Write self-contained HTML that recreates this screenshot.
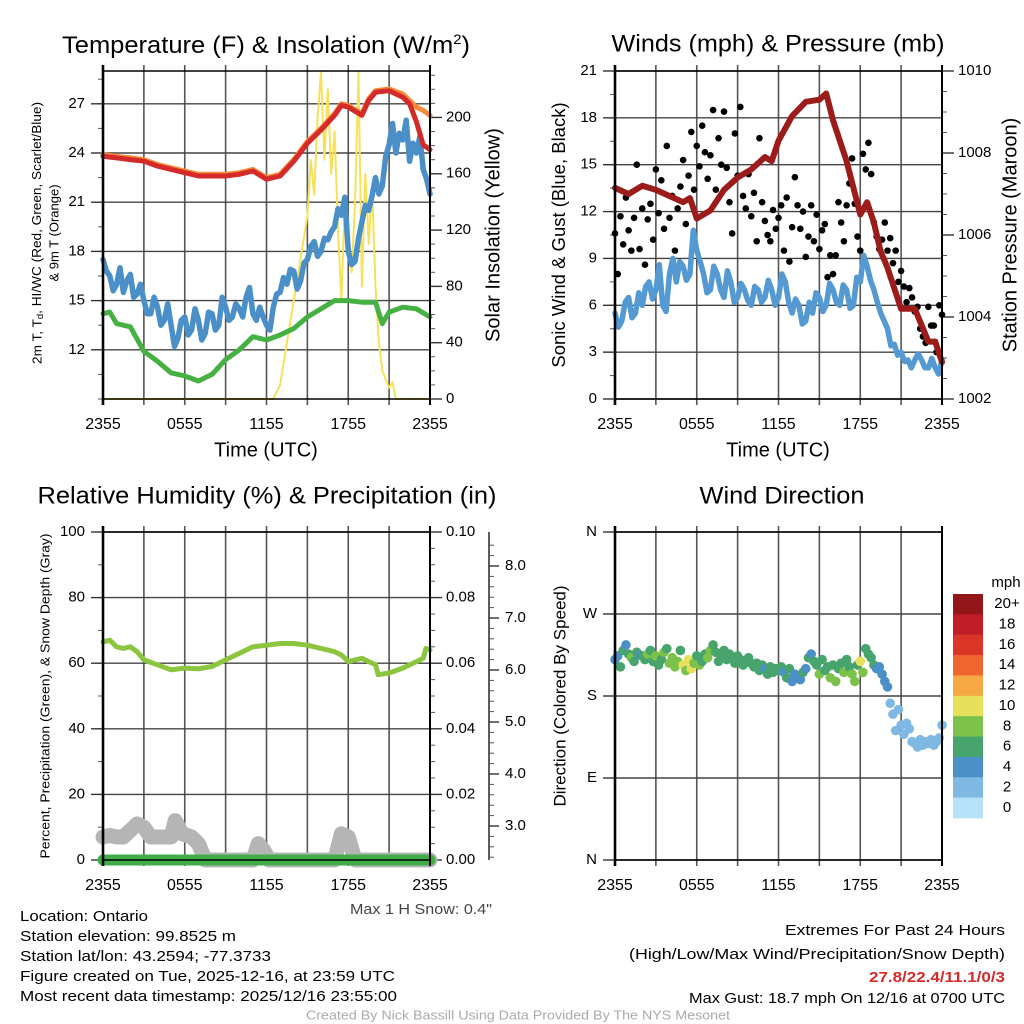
<!DOCTYPE html>
<html><head><meta charset="utf-8"><style>
html,body{margin:0;padding:0;background:#fff;}
svg{display:block;font-family:"Liberation Sans",sans-serif;}
</style></head><body>
<svg id="c" width="1024" height="1024" viewBox="0 0 1024 1024" xmlns="http://www.w3.org/2000/svg">
<rect width="1024" height="1024" fill="#fff"/>
<g id="g"></g>
<text x="266" y="53" font-size="24" text-anchor="middle" textLength="408" lengthAdjust="spacingAndGlyphs">Temperature (F) &amp; Insolation (W/m<tspan font-size="14" dy="-9">2</tspan><tspan dy="9">)</tspan></text>
<text x="778" y="45" font-size="24" text-anchor="middle" dominant-baseline="middle" textLength="333" lengthAdjust="spacingAndGlyphs">Winds (mph) &amp; Pressure (mb)</text>
<text x="267" y="497" font-size="24" text-anchor="middle" dominant-baseline="middle" textLength="459" lengthAdjust="spacingAndGlyphs">Relative Humidity (%) &amp; Precipitation (in)</text>
<text x="782" y="497" font-size="24" text-anchor="middle" dominant-baseline="middle" textLength="165" lengthAdjust="spacingAndGlyphs">Wind Direction</text>
<text x="266" y="451" font-size="20" text-anchor="middle" dominant-baseline="middle">Time (UTC)</text>
<text x="778" y="451" font-size="20" text-anchor="middle" dominant-baseline="middle">Time (UTC)</text>
<text transform="translate(38,233) rotate(-90)" font-size="13" text-anchor="middle" dominant-baseline="middle" textLength="262" lengthAdjust="spacingAndGlyphs">2m T, T<tspan font-size="9" dy="3">d</tspan><tspan dy="-3">, HI/WC (Red, Green, Scarlet/Blue)</tspan></text>
<text transform="translate(55,233) rotate(-90)" font-size="13" text-anchor="middle" dominant-baseline="middle">&amp; 9m T (Orange)</text>
<text transform="translate(494,235) rotate(-90)" font-size="20" text-anchor="middle" dominant-baseline="middle">Solar Insolation (Yellow)</text>
<text transform="translate(560,235) rotate(-90)" font-size="18.5" text-anchor="middle" dominant-baseline="middle">Sonic Wind &amp; Gust (Blue, Black)</text>
<text transform="translate(1011,235) rotate(-90)" font-size="20" text-anchor="middle" dominant-baseline="middle">Station Pressure (Maroon)</text>
<text transform="translate(46,696) rotate(-90)" font-size="13" text-anchor="middle" dominant-baseline="middle" textLength="325" lengthAdjust="spacingAndGlyphs">Percent, Precipitation (Green), &amp; Snow Depth (Gray)</text>
<text transform="translate(561,696) rotate(-90)" font-size="17" text-anchor="middle" dominant-baseline="middle">Direction (Colored By Speed)</text>
<text x="350" y="910" font-size="15" fill="#444" dominant-baseline="middle" textLength="142" lengthAdjust="spacingAndGlyphs">Max 1 H Snow: 0.4"</text>
<g font-size="15" dominant-baseline="middle">
<text x="20" y="917" textLength="128" lengthAdjust="spacingAndGlyphs">Location: Ontario</text>
<text x="20" y="937" textLength="216" lengthAdjust="spacingAndGlyphs">Station elevation: 99.8525 m</text>
<text x="20" y="957" textLength="251" lengthAdjust="spacingAndGlyphs">Station lat/lon: 43.2594; -77.3733</text>
<text x="20" y="977" textLength="375" lengthAdjust="spacingAndGlyphs">Figure created on Tue, 2025-12-16, at 23:59 UTC</text>
<text x="20" y="997" textLength="377" lengthAdjust="spacingAndGlyphs">Most recent data timestamp: 2025/12/16 23:55:00</text>
</g>
<g font-size="15" dominant-baseline="middle">
<text x="785" y="931" textLength="220" lengthAdjust="spacingAndGlyphs">Extremes For Past 24 Hours</text>
<text x="629" y="955" textLength="376" lengthAdjust="spacingAndGlyphs">(High/Low/Max Wind/Precipitation/Snow Depth)</text>
<text x="869" y="978" fill="#d42a2a" font-weight="bold" textLength="136" lengthAdjust="spacingAndGlyphs">27.8/22.4/11.1/0/3</text>
<text x="689" y="999" textLength="316" lengthAdjust="spacingAndGlyphs">Max Gust: 18.7 mph On 12/16 at 0700 UTC</text>
</g>
<text x="306" y="1016" font-size="12.5" fill="#aaa" dominant-baseline="middle" textLength="424" lengthAdjust="spacingAndGlyphs">Created By Nick Bassill Using Data Provided By The NYS Mesonet</text>
</svg>
<script>
// ---- data (time in hours since 2355 UTC) ----
const timeLabels=["2355","0555","1155","1755","2355"];
const tempT=[0,1,2,3,4,5,6,7,8,9,10,11,12,13,14,15,16,17,17.5,18,19,19.5,20,21,22,22.5,23,23.5,24];
const tempV=[23.8,23.7,23.6,23.5,23.2,23.0,22.8,22.6,22.6,22.6,22.7,22.9,22.4,22.6,23.5,24.6,25.4,26.3,26.9,26.8,26.3,27.2,27.7,27.8,27.4,27.0,25.9,24.5,24.2];
const temp9T=[0,1,2,3,4,5,6,7,8,9,10,11,12,13,14,15,16,17,17.5,18,19,19.5,20,21,22,22.5,23,23.5,24];
const temp9V=[23.9,23.8,23.7,23.6,23.3,23.1,22.9,22.7,22.7,22.7,22.8,23.0,22.5,22.7,23.6,24.7,25.5,26.4,27.0,26.9,26.4,27.3,27.8,27.9,27.6,27.2,26.8,26.6,26.3];
const greenT=[0,0.5,1,2,3,4,5,6,7,8,9,10,11,12,13,14,15,16,17,18,19,20,20.5,21,22,23,24];
const greenV=[14.2,14.3,13.6,13.4,11.9,11.3,10.6,10.4,10.1,10.5,11.4,12.0,12.8,12.6,12.9,13.3,14.0,14.5,15.0,15.0,14.9,14.9,13.6,14.3,14.6,14.5,14.0];
const dewV=[17.5,16.8,16.5,15.6,16.0,17.0,15.5,16.2,16.6,15.2,15.4,16.0,15.0,14.2,14.2,15.2,14.6,13.5,13.8,14.8,13.5,12.2,12.7,13.8,14.0,12.9,13.2,14.5,13.8,12.6,13.0,14.3,14.2,13.2,13.5,15.2,14.6,13.8,14.0,14.8,14.5,14.0,15.2,15.8,14.2,13.8,14.6,14.0,13.5,13.2,14.6,15.4,15.5,16.4,16.0,16.9,16.8,15.7,16.2,17.3,17.5,18.3,18.6,17.7,18.0,18.8,18.7,19.2,19.5,20.6,20.2,21.3,18.0,17.2,17.4,18.8,19.8,20.8,20.5,21.4,22.5,21.5,22.0,23.8,24.5,25.8,24.0,25.2,24.8,26.0,23.5,24.6,24.0,25.0,23.0,22.4,21.5];
const solarT=[0,12.5,13,13.5,14,14.5,15,15.25,15.5,15.75,16,16.25,16.5,16.75,17,17.25,17.5,17.75,18,18.25,18.5,18.75,19,19.25,19.5,19.75,20,20.25,20.5,21,21.25,21.5,24];
const solarV=[0,0,10,40,70,100,130,170,145,200,232,170,220,160,190,120,70,140,110,90,140,233,80,160,110,150,80,40,20,8,12,0,0];
const presT=[0,1,2,3,4,5,5.5,6,7,8,9,10,11,11.5,12,13,14,15,15.5,16,17,18,18.5,19,19.5,20,21,22,22.5,23,23.5,24];
const presV=[1007.15,1007.0,1007.2,1007.1,1006.95,1006.8,1006.9,1006.4,1006.6,1007.1,1007.4,1007.6,1007.9,1007.8,1008.3,1008.9,1009.25,1009.3,1009.45,1008.8,1007.8,1006.5,1006.8,1006.3,1005.6,1005.2,1004.2,1004.2,1003.8,1003.4,1003.4,1002.9];
const windV=[5.5,4.6,5.0,6.2,6.5,5.2,5.5,6.8,6.0,7.2,7.5,6.4,7.0,8.6,6.0,5.6,8.0,9.0,7.5,8.8,8.5,7.6,8.0,10.8,9.5,8.8,8.0,6.8,7.0,8.5,8.0,7.0,6.5,8.2,7.5,6.2,6.5,7.4,7.0,6.3,6.0,7.2,7.0,6.2,6.5,7.6,7.0,6.0,6.5,8.0,7.5,6.2,5.5,6.4,6.0,4.8,5.0,6.2,5.5,6.8,6.5,5.6,6.0,7.4,7.0,6.2,6.0,7.3,7.0,5.8,6.0,7.8,7.5,9.2,8.5,7.6,7.0,6.2,5.5,5.0,4.5,3.4,3.5,2.8,3.0,2.4,2.5,2.0,2.5,2.9,2.5,2.0,2.0,2.6,2.0,1.6,2.5];
const gustV=[10.6,8.0,11.7,9.9,12.9,10.8,9.5,11.6,15.0,9.6,12.2,
8.6,11.5,12.5,10.2,14.7,11.9,14.0,10.9,16.2,11.6,
13.0,9.5,12.2,13.6,15.3,11.2,14.3,17.1,13.4,16.2,
14.9,17.5,15.8,14.1,15.6,18.5,13.4,16.7,15.0,18.4,
14.8,12.6,10.6,17.0,14.3,18.7,13.0,12.2,14.4,11.7,
13.2,10.1,16.7,12.6,11.4,10.5,10.1,12.1,10.9,11.6,
12.4,9.5,12.9,8.8,11.0,14.2,12.4,10.9,12.0,9.1,
10.4,12.4,10.1,11.8,9.6,10.8,11.2,7.8,9.2,8.0,
9.2,12.6,11.3,10.1,12.4,13.8,15.4,12.5,10.4,9.5,
15.7,14.7,16.4,14.4,11.3,10.4,9.6,10.2,11.3,9.5,
10.3,8.7,9.5,7.5,8.2,7.2,6.2,7.1,6.5,5.6,
5.9,4.5,4.0,3.6,5.9,4.7,4.7,3.0,6.0,5.4];
const dirV=[220,224,212,230,236,226,222,218,228,225,224,
220,226,230,218,224,214,220,228,232,216,
222,212,218,230,214,208,220,210,216,224,
214,218,226,222,230,236,228,218,224,230,
220,226,222,216,224,220,214,218,222,216,
212,216,208,214,210,204,212,206,210,208,
212,206,200,210,196,204,200,198,206,210,
222,226,218,214,204,220,208,212,200,214,
196,210,216,206,220,212,204,196,214,218,
206,232,226,222,214,210,212,204,196,190,
172,160,142,165,148,138,150,144,130,128,
124,132,126,130,128,132,126,130,134,148];
const spdV=[5,4,6,7,5,6,8,7,6,5,6,
7,8,6,6,8,7,6,8,7,8,
9,8,8,7,10,9,11,10,8,7,
8,7,6,8,9,7,6,7,6,6,
7,6,6,7,6,7,6,6,7,6,
6,7,6,6,5,6,7,6,6,7,
6,5,6,7,5,4,5,4,6,5,
6,4,7,6,8,6,7,6,8,7,
9,6,7,8,7,6,9,8,7,10,
8,7,6,7,6,5,4,5,4,4,
3,2,3,3,2,3,2,3,2,2,
2,2,3,2,2,3,2,2,3,2];
const rhT=[0,0.5,1,1.5,2,2.5,3,4,5,6,7,8,9,10,11,12,13,14,15,16,17,17.5,18,18.5,19,19.5,20,20.2,21,22,23,23.5,23.7,24];
const rhV=[66.5,67,65,64.5,65,63.5,61,59.5,58,58.5,58.3,59,61,63,65,65.5,66,66,65.5,64.5,63.5,62.5,60.5,61,61.5,60.5,59.5,56.5,57,58.5,60.5,61.5,64.5,64];
const snowT=[0,0.5,1,1.5,2,2.5,3,3.5,4,5,5.3,5.8,6.5,7,7.5,11,11.4,11.8,12.2,17,17.5,18,18.5,24];
const snowV=[7,7.5,7,7,9,11,10,7,7,7,12,8,7,5,0,0,5,3,0,0,8,7,0,0];
const precipT=[0,24];
const precipV=[0,0];
const speedColors=["#b6e3f8","#7fb9e3","#4a8fc7","#48a46d","#7cc24a","#e7e05a","#f6a845","#ef6530","#db3528","#c01d27","#92161a"];
const speedLabels=["0","2","4","6","8","10","12","14","16","18","20+"];
const quarterT=dewV.map((v,i)=>i*0.25);

const NS="http://www.w3.org/2000/svg";
const G=document.getElementById('g');
function mk(tag,at,par){const e=document.createElementNS(NS,tag);for(const k in at)e.setAttribute(k,at[k]);(par||G).appendChild(e);return e;}
function txt(x,y,s,at){const e=mk('text',Object.assign({x:x,y:y,'font-size':15,'dominant-baseline':'middle'},at||{}));e.textContent=s;return e;}
function scale(d0,d1,r0,r1){return v=>r0+(v-d0)/(d1-d0)*(r1-r0);}

function panel(name,X0,X1,Y0,Y1){
  const p={X0,X1,Y0,Y1,x:scale(0,24,X0,X1)};
  const grid=mk('g',{});
  
  
  for(let i=0;i<=8;i++){const gx=p.x(i*3);
    mk('line',{x1:gx,x2:gx,y1:Y0-6,y2:Y1+6,stroke:'#555','stroke-width':1.6},grid);}
  for(let i=0;i<5;i++){const t=txt(p.x(i*6),Y1+26,timeLabels[i],{'text-anchor':'middle','font-size':16});
    
    }
  p.grid=grid;return p;
}
function yaxis(p,name,d0,d1,majors,labels,minorStep,side,gridOn){
  const y=scale(d0,d1,p.Y1,p.Y0);
  const ax=side==='l'?p.X0:p.X1, dir=side==='l'?-1:1;
  const g=mk('g',{});
  
  
  for(let v=d0;v<=d1+1e-9;v+=minorStep){mk('line',{x1:ax,x2:ax+dir*5,y1:y(v),y2:y(v),stroke:'#555','stroke-width':1},g);}
  majors.forEach((v,i)=>{
    mk('line',{x1:ax,x2:ax+dir*12,y1:y(v),y2:y(v),stroke:'#333','stroke-width':1.4},g);
    if(gridOn) mk('line',{x1:p.X0,x2:p.X1,y1:y(v),y2:y(v),stroke:'#444','stroke-width':1.4},p.grid);
    const t=txt(ax+dir*(side==='l'?18:16),y(v),labels[i],{'text-anchor':side==='l'?'end':'start'});
    
    
  });
  return y;
}
function border(p){
  mk('rect',{x:p.X0,y:p.Y0,width:p.X1-p.X0,height:p.Y1-p.Y0,fill:'none',stroke:'#000','stroke-width':1.5});
  mk('line',{x1:p.X0,x2:p.X0,y1:p.Y0-6,y2:p.Y1+6,stroke:'#000','stroke-width':2.6});
  mk('line',{x1:p.X1,x2:p.X1,y1:p.Y0-6,y2:p.Y1+6,stroke:'#000','stroke-width':2});
}
function line(p,ys,T,V,color,w,name){
  const pts=T.map((t,i)=>p.x(t).toFixed(1)+','+ys(V[i]).toFixed(1)).join(' ');
  const e=mk('polyline',{points:pts,fill:'none',stroke:color,'stroke-width':w,'stroke-linejoin':'round','stroke-linecap':'round'});
  
  
  return e;
}

const p1=panel('temp',103,430,71,399);
const yT=yaxis(p1,'temp-y-axis',9,29,[12,15,18,21,24,27],["12","15","18","21","24","27"],1.5,'l',true);
const yS=yaxis(p1,'solar-y-axis',0,233,[0,40,80,120,160,200],["0","40","80","120","160","200"],10,'r',false);
line(p1,yS,solarT,solarV,'#f7e15a',2,'solar-line');
line(p1,yT,greenT,greenV,'#45b142',5,'hi-wc-line');
line(p1,yT,quarterT,dewV,'#4a8fc7',5.5,'dewpoint-line');
line(p1,yT,temp9T,temp9V,'#f48b3a',5,'temp9m-line');
line(p1,yT,tempT,tempV,'#d42a2a',5,'temp2m-line');
border(p1);

const p2=panel('wind',615,942,71,399);
const yW=yaxis(p2,'wind-y-axis',0,21,[0,3,6,9,12,15,18,21],["0","3","6","9","12","15","18","21"],1.5,'l',true);
const yP=yaxis(p2,'pressure-y-axis',1002,1010,[1002,1004,1006,1008,1010],["1002","1004","1006","1008","1010"],0.5,'r',false);
line(p2,yW,quarterT,windV,'#5499d2',5.5,'sonic-wind-line');
const gg=mk('g',{});


gustV.forEach((v,i)=>{const c=mk('circle',{cx:p2.x(i*0.2),cy:yW(v),r:3.3,fill:'#000'},gg);
  
  });
line(p2,yP,presT,presV,'#9c1b1b',6,'pressure-line');
border(p2);

const p3=panel('rh',103,430,532,860);
const yR=yaxis(p3,'rh-y-axis',0,100,[0,20,40,60,80,100],["0","20","40","60","80","100"],10,'l',true);
const yPr=yaxis(p3,'precip-y-axis',0,0.1,[0,0.02,0.04,0.06,0.08,0.1],["0.00","0.02","0.04","0.06","0.08","0.10"],0.005,'r',false);
line(p3,yR,snowT,snowV,'#b5b5b5',15,'snow-depth-line');
line(p3,yR,rhT,rhV,'#8cc63f',5,'rh-line');
line(p3,yPr,precipT,precipV,'#41ad49',11,'precip-line');
border(p3);
{const sy=scale(3,8,826,566);const sg=mk('g',{});
 
 
 mk('line',{x1:489,x2:489,y1:532,y2:860,stroke:'#333','stroke-width':1.6},sg);
 for(let v=2.4;v<=8.6;v+=0.2){const yy=sy(v);if(yy<533||yy>859)continue;mk('line',{x1:489,x2:494,y1:yy,y2:yy,stroke:'#555','stroke-width':1},sg);}
 [3,4,5,6,7,8].forEach(v=>{mk('line',{x1:489,x2:499,y1:sy(v),y2:sy(v),stroke:'#333','stroke-width':1.4},sg);
   const t=txt(505,sy(v),v.toFixed(1),{});
   
   });}

const p4=panel('dir',615,942,532,860);
const yD=yaxis(p4,'dir-y-axis',0,360,[0,90,180,270,360],["N","E","S","W","N"],360,'l',true);
const dg=mk('g',{});


dirV.forEach((v,i)=>{const b=Math.min(10,Math.floor(spdV[i]/2));
  const c=mk('circle',{cx:p4.x(i*0.2),cy:yD(v),r:4.8,fill:speedColors[b]},dg);
  
  });
border(p4);
{const cg=mk('g',{});
 
 
 const h=224/11;
 for(let i=0;i<11;i++){const k=10-i;const yy=594+i*h;
   mk('rect',{x:953,y:yy,width:30,height:h+0.3,fill:speedColors[k]},cg);
   const t=txt(1007,yy+h/2,speedLabels[k],{'text-anchor':'middle'});
   
   }
 const m=txt(1006,583,'mph',{'text-anchor':'middle'});
 
 }
</script>
</body></html>
